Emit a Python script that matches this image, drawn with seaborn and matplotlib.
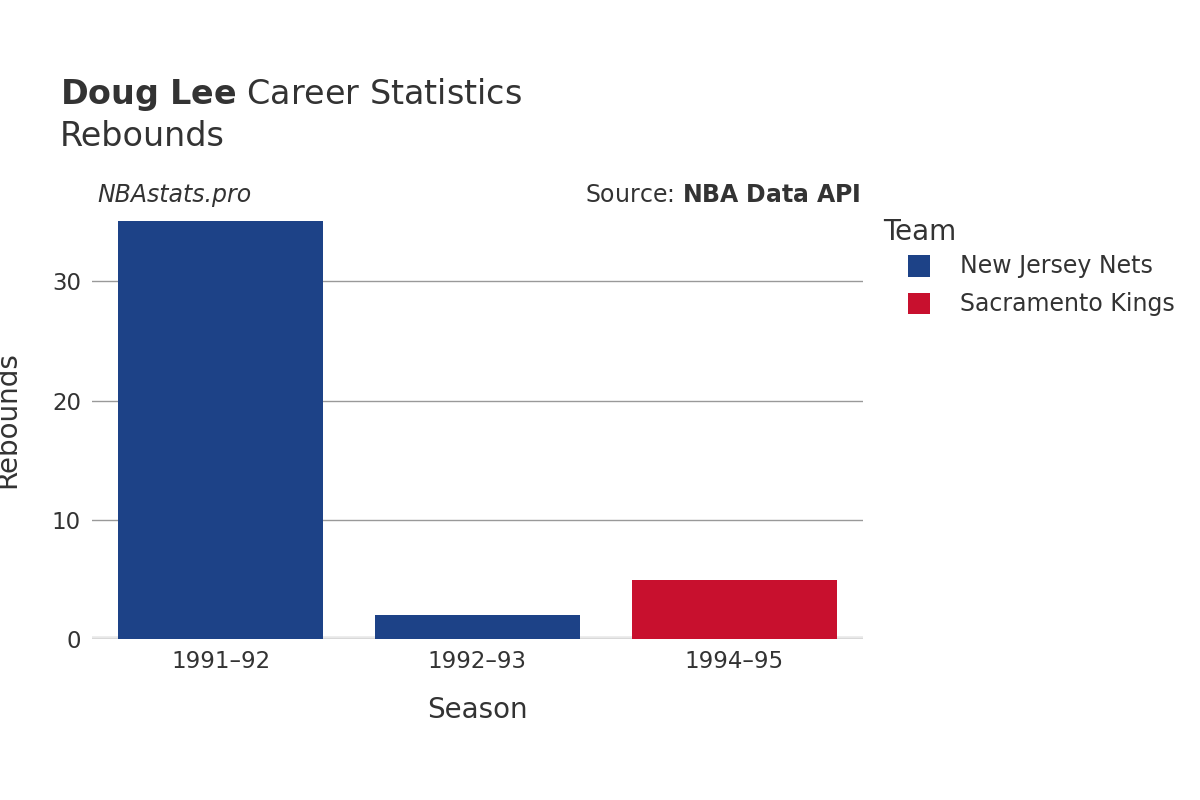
import pandas as pd
import matplotlib.pyplot as plt
import seaborn as sns

seasons = ['1991–92', '1992–93', '1994–95']
rebounds = [35, 2, 5]
teams = ['New Jersey Nets', 'New Jersey Nets', 'Sacramento Kings']
palette = {'New Jersey Nets': '#1d4287', 'Sacramento Kings': '#c8102e'}

df = pd.DataFrame({'Season': seasons, 'Rebounds': rebounds, 'Team': teams})

fig = plt.figure(figsize=(12, 8), dpi=100)
ax = fig.add_axes([0.0767, 0.201, 0.6423, 0.549])
sns.barplot(data=df, x='Season', y='Rebounds', hue='Team', palette=palette,
            dodge=False, width=0.8, saturation=1, ax=ax, legend=False)

ax.set_ylim(0, 36.8)
ax.set_xlim(-0.5, 2.5)
ax.set_yticks([0, 10, 20, 30])
ax.yaxis.grid(True, color='#999999', linewidth=1)
ax.set_axisbelow(True)
for s in ax.spines.values():
    s.set_visible(False)
ax.axhline(0, color='#e8e8e8', linewidth=4, zorder=0.5)
ax.tick_params(length=0, labelsize=16.5, colors='#333333', pad=8)
ax.set_xlabel('Season', fontsize=20, color='#333333', labelpad=16)
ax.set_ylabel('Rebounds', fontsize=20, color='#333333', labelpad=22)

fig.text(0.05, 0.87, r'$\bf{Doug\ Lee}$ Career Statistics', fontsize=24, color='#333333')
fig.text(0.05, 0.817, 'Rebounds', fontsize=24, color='#333333')
fig.text(0.081, 0.747, 'NBAstats.pro', fontsize=17, style='italic', color='#333333')
fig.text(0.717, 0.747, r'Source: $\bf{NBA\ Data\ API}$', fontsize=17, color='#333333', ha='right')

fig.text(0.736, 0.7, 'Team', fontsize=20, color='#333333')
for i, t in enumerate(palette):
    y = 0.667 - i * 0.047
    fig.patches.append(plt.Rectangle((0.757, y - 0.013), 0.018, 0.027, transform=fig.transFigure,
                                     facecolor=palette[t], edgecolor='none'))
    fig.text(0.8, y, t, fontsize=17, color='#333333', va='center')

fig.savefig('out.png')
